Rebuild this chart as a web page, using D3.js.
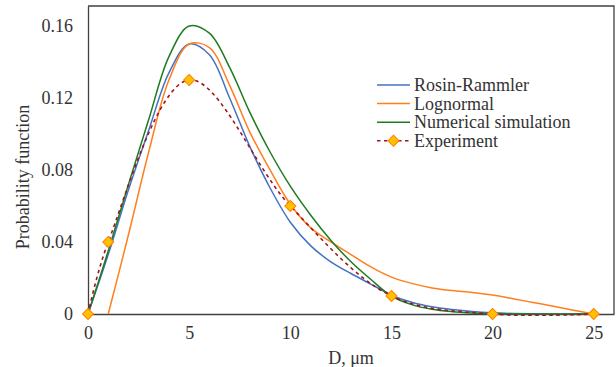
<!DOCTYPE html>
<html>
<head>
<meta charset="utf-8">
<script src="https://cdn.jsdelivr.net/npm/d3@7"></script>
<style>
  body { margin: 0; background: #fff; }
  svg { display: block; }
</style>
</head>
<body>
<div id="drawing"></div>
<script>
// values
const rosinX = [0, 1, 2, 3, 4, 5, 6, 7, 8, 9, 10, 11, 12, 13, 14, 15, 16, 17, 18, 19, 20, 21, 22, 23, 24, 25];
const rosinY = [0, 0.033, 0.069, 0.102, 0.134, 0.15, 0.144, 0.12, 0.093, 0.07, 0.051, 0.038, 0.029, 0.0225, 0.0165, 0.0105, 0.0065, 0.004, 0.0025, 0.0014, 0.0007, 0.0003, 0.0001, 0, 0, 0];

const lognormX = [1, 2, 3, 4, 5, 6, 7, 8, 9, 10, 11, 12, 13, 14, 15, 16, 17, 18, 19, 20, 21, 22, 23, 24, 25];
const lognormY = [0, 0.044, 0.09, 0.13, 0.15, 0.148, 0.127, 0.101, 0.08, 0.061, 0.048, 0.04, 0.033, 0.026, 0.0205, 0.017, 0.0145, 0.013, 0.012, 0.0105, 0.0085, 0.0064, 0.0043, 0.0021, 0];

const numX = [0, 1, 2, 3, 4, 5, 6, 7, 8, 9, 10, 11, 12, 13, 14, 15, 16, 17, 18, 19, 20, 21, 22, 23, 24, 25];
const numY = [0, 0.035, 0.072, 0.108, 0.143, 0.16, 0.156, 0.137, 0.112, 0.09, 0.071, 0.055, 0.041, 0.029, 0.019, 0.01, 0.0052, 0.0026, 0.0013, 0.0006, 0.0002, 0, 0, 0, 0, 0];

const expX = [0, 1, 5, 10, 15, 20, 25];
const expY = [0, 0.04, 0.13, 0.06, 0.01, 0, 0];

const xTicks = [0, 5, 10, 15, 20, 25];
const yTicks = [0, 0.04, 0.08, 0.12, 0.16];

const seriesNames = ["Rosin-Rammler", "Lognormal", "Numerical simulation", "Experiment"];
const seriesColors = ["#4472C4", "#FF7F1E", "#1E7B1E", "#A0141E"];

const W = 616, H = 367;
const plotL = 88, plotR = 614, plotT = 6, plotB = 314;
const serif = "'Liberation Serif', 'Times New Roman', 'DejaVu Serif', serif";

const svg = d3
  .select("#drawing")
  .append("svg")
  .attr("width", W)
  .attr("height", H)
  .style("font-family", serif);

const x = d3.scaleLinear().domain([0, 26]).range([plotL, plotR]);
const y = d3.scaleLinear().domain([0, 0.1711]).range([plotB, plotT]);

// frame (top and right edge of the plot area)
svg.append("path")
  .attr("d", `M${plotL},${plotT}H${plotR}V${plotB}`)
  .attr("fill", "none")
  .attr("stroke", "#404040")
  .attr("stroke-width", 1.3);

// axes without tick marks
const xAxis = d3.axisBottom(x).tickValues(xTicks).tickSize(0).tickPadding(12).tickFormat(d3.format("d"));
const yAxis = d3.axisLeft(y).tickValues(yTicks).tickSize(0).tickPadding(15)
  .tickFormat((d) => (d === 0 ? "0" : d.toFixed(2)));

const gx = svg.append("g").attr("transform", `translate(0,${plotB})`).call(xAxis);
const gy = svg.append("g").attr("transform", `translate(${plotL},0)`).call(yAxis);

[gx, gy].forEach((g) => {
  g.attr("font-family", null).attr("font-size", null);
  g.select(".domain").attr("stroke", "#404040").attr("stroke-width", 1.3);
  g.selectAll("text").attr("fill", "#333").style("font-size", "18px").style("font-family", serif);
});

// axis titles
svg.append("text")
  .attr("x", (plotL + plotR) / 2)
  .attr("y", 364)
  .attr("text-anchor", "middle")
  .attr("fill", "#333")
  .style("font-size", "18px")
  .text("D, μm");

svg.append("text")
  .attr("transform", "rotate(-90)")
  .attr("x", -177)
  .attr("y", 29)
  .attr("text-anchor", "middle")
  .attr("fill", "#333")
  .style("font-size", "18px")
  .text("Probability function");

const line = d3.line()
  .x((d) => x(d[0]))
  .y((d) => y(d[1]))
  .curve(d3.curveCatmullRom.alpha(0.5));

const zip = (xs, ys) => xs.map((v, i) => [v, ys[i]]);

const curves = [zip(rosinX, rosinY), zip(lognormX, lognormY), zip(numX, numY)];
curves.forEach((pts, i) => {
  svg.append("path")
    .datum(pts)
    .attr("d", line)
    .attr("fill", "none")
    .attr("stroke", seriesColors[i])
    .attr("stroke-width", 1.5);
});

// experiment: dashed smooth line with diamonds
const expPts = zip(expX, expY);
svg.append("path")
  .datum(expPts)
  .attr("d", line)
  .attr("fill", "none")
  .attr("stroke", seriesColors[3])
  .attr("stroke-width", 1.6)
  .attr("stroke-dasharray", "3.5,3.5");

const diamond = d3.symbol().type(d3.symbolSquare).size(60);
svg.selectAll("path.marker")
  .data(expPts)
  .enter()
  .append("path")
  .attr("class", "marker")
  .attr("d", diamond)
  .attr("transform", (d) => `translate(${x(d[0])},${y(d[1])}) rotate(45)`)
  .attr("fill", "#FFC000")
  .attr("stroke", "#FF8000")
  .attr("stroke-width", 1);

// legend
const legend = svg.append("g").attr("transform", "translate(377,85)");
seriesNames.forEach((name, i) => {
  const row = legend.append("g").attr("transform", `translate(0,${i * 18.6})`);
  row.append("line")
    .attr("x1", 0).attr("x2", 33)
    .attr("stroke", seriesColors[i])
    .attr("stroke-width", 1.5)
    .attr("stroke-dasharray", i === 3 ? "3.5,3.5" : null);
  if (i === 3) {
    row.append("path")
      .attr("d", diamond)
      .attr("transform", "translate(16.5,0) rotate(45)")
      .attr("fill", "#FFC000")
      .attr("stroke", "#FF8000");
  }
  row.append("text")
    .attr("x", 37)
    .attr("y", 0)
    .attr("dy", "0.33em")
    .attr("fill", "#333")
    .style("font-size", "18px")
    .text(name);
});
</script>
</body>
</html>
